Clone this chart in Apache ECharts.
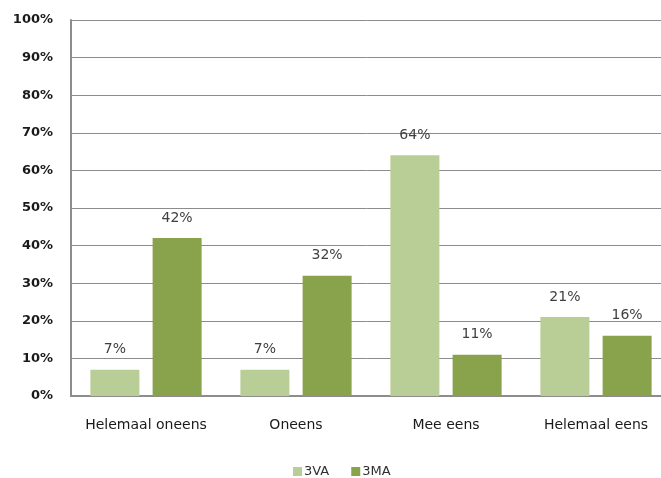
<!DOCTYPE html>
<html>
<head>
<meta charset="utf-8">
<script src="https://cdn.jsdelivr.net/npm/echarts@6/dist/echarts.min.js"></script>
<style>
  html, body { margin: 0; padding: 0; background: #fff; }
  #chart { width: 661px; height: 478px; }
</style>
</head>
<body>
<div id="chart"></div>
<script>
// Answer categories and percentages per group
const categories = ['Helemaal oneens', 'Oneens', 'Mee eens', 'Helemaal eens'];
const seriesNames = ['3VA', '3MA'];
const values3VA = [7, 7, 64, 21];
const values3MA = [42, 32, 11, 16];

const chart = echarts.init(document.getElementById('chart'), null, { renderer: 'canvas' });

const labelStyle = {
  show: true,
  position: 'top',
  distance: 13,
  formatter: p => p.value + '%',
  color: '#404040',
  fontFamily: 'DejaVu Sans',
  fontSize: 14
};

chart.setOption({
  animation: false,
  backgroundColor: '#ffffff',
  // plot area runs slightly past the right edge of the canvas
  grid: { left: 71, width: 600, top: 20, bottom: 82, containLabel: false, outerBoundsMode: 'none' },
  legend: {
    top: 460,
    left: 288,
    itemWidth: 9,
    itemHeight: 9,
    itemGap: 22,
    icon: 'rect',
    textStyle: { color: '#303030', fontFamily: 'DejaVu Sans', fontSize: 13, padding: [0, 0, 0, -3] },
    data: seriesNames
  },
  xAxis: {
    type: 'category',
    data: categories,
    axisLine: { lineStyle: { color: '#8c8c8c', width: 2 } },
    axisTick: { show: false },
    axisLabel: {
      interval: 0,
      color: '#1a1a1a',
      fontFamily: 'DejaVu Sans',
      fontSize: 14,
      margin: 22
    }
  },
  yAxis: {
    type: 'value',
    min: 0,
    max: 100,
    interval: 10,
    axisLine: { show: true, lineStyle: { color: '#8c8c8c', width: 2 } },
    axisTick: { show: false },
    axisLabel: {
      formatter: '{value}%',
      color: '#1a1a1a',
      fontFamily: 'DejaVu Sans',
      fontWeight: 'bold',
      fontSize: 13,
      margin: 18
    },
    splitLine: { lineStyle: { color: '#8c8c8c', width: 1 } }
  },
  series: [
    {
      name: '3VA',
      type: 'bar',
      data: values3VA,
      barWidth: 49,
      barGap: '27%',
      itemStyle: { color: '#b9cd96' },
      label: labelStyle
    },
    {
      name: '3MA',
      type: 'bar',
      data: values3MA,
      barWidth: 49,
      barGap: '27%',
      itemStyle: { color: '#88a34c' },
      label: labelStyle
    }
  ]
});
</script>
</body>
</html>
